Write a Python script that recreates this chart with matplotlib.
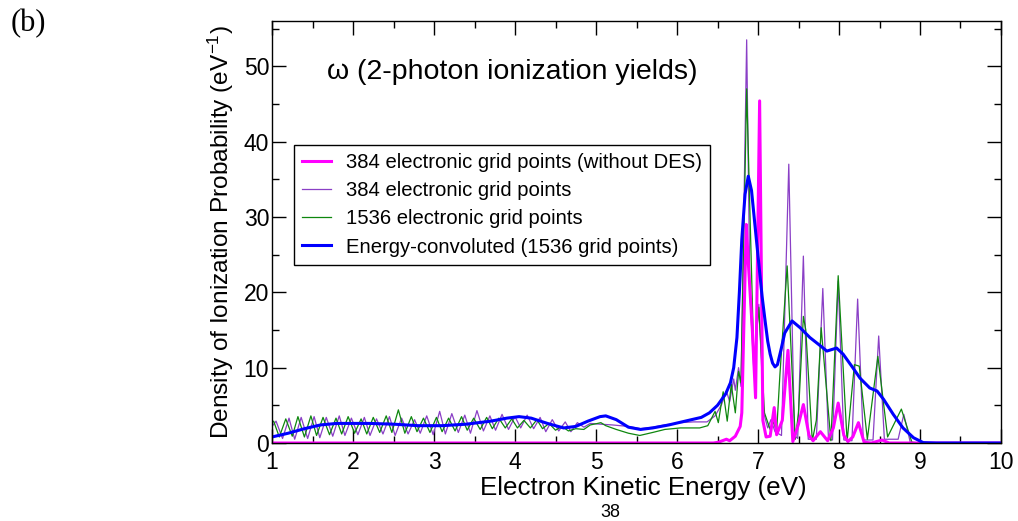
"""Density of ionization probability vs electron kinetic energy (panel b)."""

import matplotlib

matplotlib.use("Agg")
import matplotlib.pyplot as plt  # noqa: E402
from matplotlib.ticker import MultipleLocator  # noqa: E402

plt.rcParams["font.family"] = ["Liberation Sans", "DejaVu Sans"]
plt.rcParams["mathtext.fontset"] = "custom"
plt.rcParams["mathtext.rm"] = "Liberation Sans"
plt.rcParams["mathtext.it"] = "Liberation Sans:italic"
plt.rcParams["axes.unicode_minus"] = False

# 384 electronic grid points (without DES)
nodes_x = [1.0, 6.45, 6.51, 6.61, 6.65, 6.72, 6.78, 6.80, 6.835, 6.855, 6.88, 6.93,
           6.97, 7.02, 7.06, 7.10, 7.15, 7.20, 7.23, 7.30, 7.37, 7.43, 7.50, 7.56,
           7.63, 7.68, 7.77, 7.86, 7.93, 7.99, 8.06, 8.11, 8.17, 8.24, 8.31, 8.40,
           8.53, 8.62, 9.0, 10.0]
nodes_y = [0.0, 0.0, 0.1, 0.5, 0.3, 0.9, 2.2, 4.0, 20.0, 29.0, 24.0, 15.0,
           6.0, 45.4, 3.0, 0.8, 0.9, 4.7, 1.1, 3.0, 12.3, 0.2, 2.5, 5.1,
           1.0, 0.3, 1.5, 0.3, 2.0, 5.3, 1.0, 0.2, 0.8, 2.7, 0.1, 0.0,
           0.4, 0.0, 0.0, 0.0]

# 384 electronic grid points
g384_x = [1.00, 1.05, 1.13, 1.21, 1.28, 1.36, 1.44, 1.52, 1.59, 1.67, 1.75, 1.83,
          1.90, 1.98, 2.06, 2.14, 2.21, 2.29, 2.37, 2.45, 2.52, 2.60, 2.68, 2.76,
          2.83, 2.91, 2.99, 3.07, 3.14, 3.22, 3.30, 3.38, 3.45, 3.53, 3.61, 3.69,
          3.76, 3.84, 3.92, 4.00, 4.07, 4.15, 4.23, 4.31, 4.38, 4.46, 4.54, 4.62,
          4.69, 4.77, 4.85, 4.93, 5.05, 5.20, 5.40, 5.55, 5.70, 5.85, 6.04, 6.20,
          6.37, 6.47, 6.55, 6.61, 6.65, 6.70, 6.72, 6.76, 6.79, 6.86, 6.90, 6.95,
          7.01, 7.07, 7.12, 7.16, 7.21, 7.29, 7.38, 7.45, 7.49, 7.56, 7.62, 7.72,
          7.80, 7.87, 7.92, 7.99, 8.06, 8.16, 8.23, 8.30, 8.42, 8.49, 8.56, 8.73,
          8.80, 8.88, 9.0, 10.0]
g384_y = [2.2, 2.9, 0.6, 3.3, 0.5, 3.4, 0.6, 3.5, 0.7, 3.4, 0.9, 3.6,
          1.0, 3.3, 1.1, 3.4, 1.0, 3.2, 1.2, 3.5, 1.0, 3.3, 1.2, 3.1,
          1.3, 3.6, 1.1, 4.2, 1.2, 3.9, 1.4, 3.7, 1.3, 4.3, 1.6, 3.6,
          1.7, 3.8, 1.8, 3.5, 2.0, 3.7, 1.9, 3.4, 1.5, 3.1, 1.6, 2.8,
          1.5, 2.7, 2.1, 2.6, 2.5, 2.4, 2.2, 1.9, 2.1, 2.4, 2.7, 2.8,
          2.8, 3.6, 5.1, 6.9, 5.5, 8.5, 7.0, 10.0, 7.5, 53.5, 20.0, 9.3,
          18.4, 4.0, 2.0, 3.1, 1.5, 1.0, 37.0, 1.0, 0.6, 24.8, 0.5, 0.5,
          20.5, 0.5, 0.4, 21.5, 0.4, 0.3, 19.1, 0.4, 0.4, 14.2, 0.5, 0.5,
          3.8, 0.1, 0.0, 0.0]

# 1536 electronic grid points
g1536_x = [1.00, 1.02, 1.09, 1.17, 1.25, 1.32, 1.40, 1.48, 1.55, 1.63, 1.71, 1.79,
           1.86, 1.94, 2.02, 2.10, 2.17, 2.25, 2.33, 2.41, 2.48, 2.56, 2.64, 2.72,
           2.79, 2.87, 2.95, 3.03, 3.10, 3.18, 3.26, 3.34, 3.41, 3.49, 3.57, 3.65,
           3.72, 3.80, 3.88, 3.96, 4.03, 4.11, 4.19, 4.27, 4.34, 4.42, 4.50, 4.58,
           4.66, 4.75, 4.85, 4.93, 5.02, 5.06, 5.12, 5.25, 5.40, 5.54, 5.70, 5.85,
           6.04, 6.28, 6.38, 6.47, 6.51, 6.57, 6.62, 6.67, 6.72, 6.76, 6.79, 6.86,
           6.95, 7.01, 7.08, 7.15, 7.19, 7.23, 7.27, 7.36, 7.46, 7.50, 7.56, 7.59,
           7.67, 7.72, 7.78, 7.90, 7.99, 8.10, 8.19, 8.25, 8.35, 8.48, 8.60, 8.77,
           8.90, 9.0, 10.0]
g1536_y = [2.7, 2.9, 0.8, 3.2, 0.9, 3.5, 0.8, 3.6, 1.0, 3.4, 1.1, 3.3,
           1.2, 3.5, 1.3, 3.2, 1.2, 3.4, 1.4, 3.6, 1.4, 4.4, 1.3, 3.5,
           1.5, 3.3, 1.4, 3.4, 1.5, 3.3, 1.6, 3.5, 1.7, 3.3, 1.8, 3.4,
           1.9, 3.3, 2.0, 3.2, 2.0, 3.0, 2.0, 3.1, 1.9, 2.6, 1.7, 2.2,
           1.6, 1.9, 1.8, 2.4, 2.6, 2.7, 2.3, 1.8, 1.3, 1.0, 1.4, 1.8,
           2.0, 2.0, 2.3, 4.2, 2.7, 6.8, 2.9, 7.8, 4.0, 9.5, 8.0, 47.0,
           10.6, 18.0, 4.0, 1.8, 2.8, 1.5, 9.0, 23.5, 0.5, 4.0, 16.8, 15.0,
           0.3, 3.0, 15.3, 0.3, 22.2, 0.2, 10.4, 10.2, 0.5, 11.5, 0.8, 4.5,
           0.1, 0.0, 0.0]

# Energy-convoluted (1536 grid points)
conv_x = [1.00, 1.20, 1.40, 1.60, 1.80, 2.00, 2.20, 2.50, 2.80, 3.10, 3.40, 3.70,
          3.90, 4.05, 4.20, 4.40, 4.60, 4.75, 4.90, 5.05, 5.12, 5.25, 5.40, 5.55,
          5.70, 5.90, 6.10, 6.30, 6.40, 6.50, 6.60, 6.66, 6.70, 6.74, 6.77, 6.80,
          6.84, 6.88, 6.92, 6.98, 7.05, 7.09, 7.12, 7.15, 7.18, 7.21, 7.24, 7.28,
          7.33, 7.42, 7.52, 7.64, 7.77, 7.85, 7.97, 8.05, 8.17, 8.26, 8.38, 8.47,
          8.55, 8.67, 8.79, 8.92, 9.04, 9.20, 10.0]
conv_y = [0.8, 1.3, 1.9, 2.4, 2.6, 2.6, 2.6, 2.5, 2.3, 2.3, 2.5, 2.9,
          3.3, 3.5, 3.3, 2.6, 2.0, 2.2, 2.9, 3.5, 3.6, 3.1, 2.1, 1.8,
          2.0, 2.4, 2.9, 3.4, 4.0, 5.0, 6.5, 8.0, 10.0, 14.0, 20.0, 27.0,
          33.0, 35.4, 33.5, 27.0, 19.5, 16.0, 13.5, 11.8, 10.6, 10.1, 10.4, 12.2,
          14.6, 16.2, 15.3, 14.0, 12.9, 12.2, 12.6, 11.8, 10.0, 8.6, 7.3, 6.9,
          5.8, 3.8, 2.0, 0.7, 0.05, 0.0, 0.0]

fig = plt.figure(figsize=(10.18, 5.21), dpi=100)
ax = fig.add_axes([0.2672, 0.1497, 0.7161, 0.8100])

h_pur, = ax.plot(g384_x, g384_y, color="#8A3FC6", lw=0.9,
                 label="384 electronic grid points")
h_grn, = ax.plot(g1536_x, g1536_y, color="#0E870E", lw=0.9,
                 label="1536 electronic grid points")
h_mag, = ax.plot(nodes_x, nodes_y, color="#FF00FF", lw=2.2,
                 label="384 electronic grid points (without DES)")
h_blu, = ax.plot(conv_x, conv_y, color="#0000FF", lw=2.2,
                 label="Energy-convoluted (1536 grid points)")

ax.set_xlim(1, 10)
ax.set_ylim(0, 56)
ax.xaxis.set_major_locator(MultipleLocator(1))
ax.xaxis.set_minor_locator(MultipleLocator(0.5))
ax.yaxis.set_major_locator(MultipleLocator(10))
ax.yaxis.set_minor_locator(MultipleLocator(5))
ax.tick_params(which="both", direction="in", top=True, right=True, width=1.0,
               labelsize=16.5)
ax.tick_params(which="major", length=10)
ax.tick_params(which="minor", length=5)
ax.tick_params(axis="x", pad=6)
ax.tick_params(axis="y", pad=2)
for sp in ax.spines.values():
    sp.set_linewidth(1.0)

ax.set_xlabel("Electron Kinetic Energy (eV)", fontsize=18.7)
ax.set_ylabel("Density of Ionization Probability (eV$^{-1}$)", fontsize=17.6)
ax.xaxis.set_label_coords(0.51, -0.078)
ax.yaxis.set_label_coords(-0.049, 0.5)

ax.text(0.075, 0.879, "ω (2-photon ionization yields)", transform=ax.transAxes,
        fontsize=20.5, va="center", ha="left")

leg = ax.legend(handles=[h_mag, h_pur, h_grn, h_blu], loc="upper left",
                bbox_to_anchor=(0.030, 0.706), borderaxespad=0, fontsize=14.6,
                fancybox=False, edgecolor="black", framealpha=1,
                handlelength=1.45, handletextpad=0.72, labelspacing=0.45,
                borderpad=0.4)
leg.get_frame().set_linewidth(1.0)

fig.text(0.010, 0.955, "(b)", fontsize=22, family="Liberation Serif",
         ha="left", va="center")
fig.text(0.600, 0.017, "38", fontsize=13, ha="center", va="center")

fig.savefig("out.png", dpi=100)
